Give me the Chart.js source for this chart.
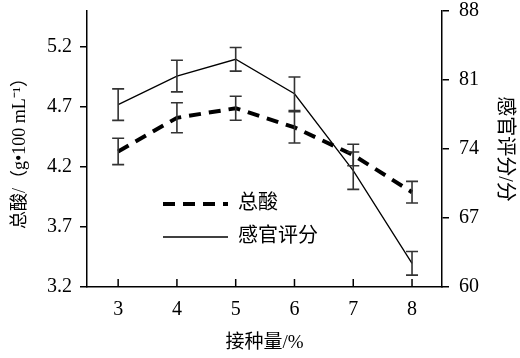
<!DOCTYPE html>
<html><head><meta charset="utf-8">
<script src="https://cdn.jsdelivr.net/npm/chart.js@4/dist/chart.umd.min.js"></script>
<style>html,body{margin:0;padding:0;background:#fff}#wrap{width:520px;height:358px}</style>
</head><body><div id="wrap"><canvas id="c" width="520" height="358"></canvas></div>
<script>
const inoculum = [3, 4, 5, 6, 7, 8];
const totalAcid = [4.33, 4.61, 4.69, 4.53, 4.30, 3.99];
const totalAcidErr = [0.11, 0.125, 0.10, 0.13, 0.09, 0.09];
const sensoryScore = [78.5, 81.4, 83.1, 79.6, 71.8, 62.4];
const sensoryScoreErr = [1.6, 1.6, 1.2, 1.7, 1.9, 1.2];
const leftTicks = [3.2, 3.7, 4.2, 4.7, 5.2];
const rightTicks = [60, 67, 74, 81, 88];
const seriesNames = ['总酸', '感官评分'];
const xTitle = '接种量/%';
const leftTitle = '总酸/（g•100 mL⁻¹）';
const rightTitle = '感官评分/分';

const FONT = "'Liberation Serif','Noto Sans CJK SC',serif";
Chart.defaults.font.family = FONT;
Chart.defaults.color = '#000';

function noPad(s) { s.paddingTop = 0; s.paddingBottom = 0; s.paddingLeft = 0; s.paddingRight = 0; }

const errorBars = {
  id: 'errorBars',
  afterDatasetsDraw(chart) {
    const ctx = chart.ctx;
    ctx.save();
    ctx.strokeStyle = '#333';
    ctx.lineWidth = 1.6;
    chart.data.datasets.forEach(ds => {
      const ys = chart.scales[ds.yAxisID];
      const xs = chart.scales.x;
      ds.data.forEach((p, i) => {
        const e = ds.errors[i];
        const x = xs.getPixelForValue(p.x);
        const y1 = ys.getPixelForValue(p.y + e);
        const y2 = ys.getPixelForValue(p.y - e);
        ctx.beginPath();
        ctx.moveTo(x, y1); ctx.lineTo(x, y2);
        ctx.moveTo(x - 6, y1); ctx.lineTo(x + 6, y1);
        ctx.moveTo(x - 6, y2); ctx.lineTo(x + 6, y2);
        ctx.stroke();
      });
    });
    ctx.restore();
  }
};

const xInnerTicks = {
  id: 'xInnerTicks',
  afterDraw(chart) {
    const ctx = chart.ctx, xs = chart.scales.x, b = chart.chartArea.bottom;
    ctx.save();
    ctx.strokeStyle = '#000';
    ctx.lineWidth = 1.5;
    inoculum.forEach(v => {
      const x = xs.getPixelForValue(v);
      ctx.beginPath(); ctx.moveTo(x, b); ctx.lineTo(x, b - 8); ctx.stroke();
    });
    ctx.restore();
  }
};

const customLegend = {
  id: 'customLegend',
  afterDraw(chart) {
    const ctx = chart.ctx, a = chart.chartArea;
    const x0 = a.left + 76, x1 = a.left + 141, tx = a.left + 151;
    const rows = [a.bottom - 83, a.bottom - 50];
    ctx.save();
    chart.data.datasets.forEach((ds, i) => {
      const y = rows[i];
      ctx.strokeStyle = ds.borderColor;
      ctx.lineWidth = ds.borderWidth;
      ctx.setLineDash(ds.borderDash || []);
      ctx.beginPath(); ctx.moveTo(x0, y); ctx.lineTo(x1, y); ctx.stroke();
      ctx.setLineDash([]);
      ctx.fillStyle = '#000';
      ctx.font = "20px " + FONT;
      ctx.textBaseline = 'middle';
      ctx.textAlign = 'left';
      ctx.fillText(ds.label, tx, y);
    });
    ctx.restore();
  }
};

new Chart(document.getElementById('c'), {
  type: 'line',
  data: {
    datasets: [
      {
        label: seriesNames[0],
        data: inoculum.map((x, i) => ({x, y: totalAcid[i]})),
        errors: totalAcidErr,
        yAxisID: 'y',
        borderColor: '#000',
        borderWidth: 4,
        borderDash: [12, 8],
        pointRadius: 0,
        tension: 0,
        fill: false
      },
      {
        label: seriesNames[1],
        data: inoculum.map((x, i) => ({x, y: sensoryScore[i]})),
        errors: sensoryScoreErr,
        yAxisID: 'y1',
        borderColor: '#000',
        borderWidth: 1.3,
        pointRadius: 0,
        tension: 0,
        fill: false
      }
    ]
  },
  options: {
    responsive: false,
    animation: false,
    layout: {padding: {top: 11, left: 0, right: 0, bottom: 0}},
    plugins: {legend: {display: false}, tooltip: {enabled: false}},
    scales: {
      x: {
        type: 'linear',
        min: 2.47, max: 8.51,
        afterBuildTicks: s => { s.ticks = inoculum.map(v => ({value: v})); },
        afterFit: s => { s.height = 71; noPad(s); },
        grid: {display: false, drawTicks: false},
        border: {display: true, color: '#000', width: 1.5},
        ticks: {font: {size: 20}, color: '#000', padding: 11, callback: v => String(v), maxRotation: 0},
        title: {display: true, text: xTitle, font: {size: 19}, color: '#000', padding: {top: 0, bottom: 4}}
      },
      y: {
        type: 'linear',
        position: 'left',
        min: 3.2, max: 5.5,
        afterBuildTicks: s => { s.ticks = leftTicks.map(v => ({value: v})); },
        afterFit: s => { s.width = 87; noPad(s); },
        grid: {display: true, drawOnChartArea: false, drawTicks: true, tickLength: 7, color: '#000', lineWidth: 1.5},
        border: {display: true, color: '#000', width: 1.5},
        ticks: {font: {size: 20}, color: '#000', padding: 8, callback: v => Number(v).toFixed(1)},
        title: {display: true, text: leftTitle, font: {size: 18}, color: '#000', padding: {top: 9, bottom: 0}}
      },
      y1: {
        type: 'linear',
        position: 'right',
        min: 60, max: 88,
        afterBuildTicks: s => { s.ticks = rightTicks.map(v => ({value: v})); },
        afterFit: s => { s.width = 78; noPad(s); },
        grid: {display: true, drawOnChartArea: false, drawTicks: true, tickLength: 7, color: '#000', lineWidth: 1.5},
        border: {display: true, color: '#000', width: 1.5},
        ticks: {font: {size: 20}, color: '#000', padding: 10, callback: v => String(v)},
        title: {display: true, text: rightTitle, font: {size: 20}, color: '#000', padding: {top: 4, bottom: 0}}
      }
    }
  },
  plugins: [errorBars, xInnerTicks, customLegend]
});
</script>
</body></html>
